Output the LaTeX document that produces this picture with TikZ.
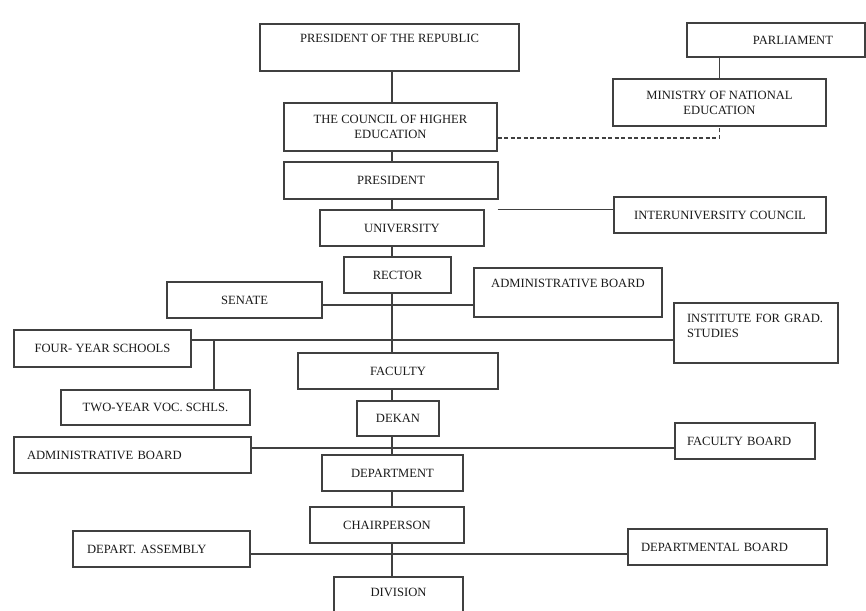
\documentclass[tikz,border=0pt]{standalone}
\usepackage{fontspec}
\setmainfont{Liberation Serif}
\begin{document}
\begin{tikzpicture}[
        x=1pt, y=1pt,
        every node/.style={font=\fontsize{12.6}{15}\selectfont, text=black!90},
        box/.style={rectangle, draw=black!75, line width=1.1pt,
            inner sep=0pt, minimum height=36pt, align=center},
        sidebox/.style={box, inner xsep=13pt, text width=#1, align=left},
        link/.style={draw=black!75, line width=1.1pt}
      ]
      \useasboundingbox (0,0) rectangle (866,-610);

      % top of the chain
      \node[box, minimum width=259pt, text height=18pt, text depth=29pt]
      (rep) at (389.5,-47.5) {PRESIDENT OF THE REPUBLIC};
      \node[box, text width=114pt, inner xsep=32pt, align=right, minimum height=34pt]
      (parl) at (776,-40) {PARLIAMENT};
      \node[box, minimum width=213pt, minimum height=48pt]
      (council) at (390.5,-127) {THE COUNCIL OF HIGHER\\EDUCATION};
      \node[box, minimum width=213pt, minimum height=47pt]
      (ministry) at (719.5,-102.5) {MINISTRY OF NATIONAL\\EDUCATION};
      \node[box, minimum width=214pt, minimum height=37pt]
      (pres) at (391,-180.5) {PRESIDENT};
      \node[box, minimum width=164pt]
      (univ) at (402,-228) {UNIVERSITY};
      \node[box, minimum width=212pt]
      (inter) at (720,-215) {INTERUNIVERSITY COUNCIL};

      % university level
      \node[box, minimum width=107pt]
      (rector) at (397.5,-275) {RECTOR};
      \node[box, minimum width=155pt]
      (senate) at (244.5,-300) {SENATE};
      \node[box, minimum width=188pt, text height=19pt, text depth=30pt]
      (adma) at (568,-292.5) {ADMINISTRATIVE BOARD};
      \node[box, minimum width=177pt, minimum height=37pt]
      (four) at (102.5,-348.5) {FOUR- YEAR SCHOOLS};
      \node[sidebox=138pt, text height=19pt, text depth=41pt]
      (inst) at (756,-333) {INSTITUTE FOR GRAD.\\STUDIES};
      \node[box, minimum width=189pt, minimum height=35pt]
      (two) at (155.5,-407.5) {TWO-YEAR VOC. SCHLS.};

      % faculty level
      \node[box, minimum width=200pt]
      (faculty) at (398,-371) {FACULTY};
      \node[box, minimum width=82pt, minimum height=35pt]
      (dekan) at (398,-418.5) {DEKAN};
      \node[sidebox=211pt]
      (admb) at (132.5,-455) {ADMINISTRATIVE BOARD};
      \node[sidebox=116pt, inner xsep=12pt]
      (fboard) at (745,-441) {FACULTY BOARD};

      % department level
      \node[box, minimum width=141pt]
      (dept) at (392.5,-473) {DEPARTMENT};
      \node[box, minimum width=154pt]
      (chair) at (387,-525) {CHAIRPERSON};
      \node[sidebox=149pt, inner xsep=14pt]
      (assembly) at (161.5,-549) {DEPART. ASSEMBLY};
      \node[sidebox=173pt]
      (dboard) at (727.5,-547) {DEPARTMENTAL BOARD};
      \node[box, minimum width=129pt, text height=19pt, text depth=21pt]
      (division) at (398.5,-597) {DIVISION};

      % main line
      \coordinate (spine) at (392,0);
      \foreach \a/\b in {rep/council, council/pres, pres/univ, univ/rector,
          rector/faculty, faculty/dekan, dekan/dept, dept/chair, chair/division}{
          \draw[link] (\a.south -| spine) -- (\b.north -| spine);
        }

      \draw[link] (ministry.north |- parl.south) -- (ministry.north);
      \draw[link, dash pattern=on 4pt off 2.5pt] ([yshift=-11pt]council.east) -| (ministry.south);
      \draw[link] ([xshift=13pt]univ.north east) -- (inter.west |- univ.north);

      \draw[link] ([yshift=-5pt]senate.east) -- ([yshift=-5pt]senate.east -| adma.west);
      \draw[link] ([yshift=8.5pt]four.east) -- ([yshift=8.5pt]four.east -| inst.west);
      \coordinate (fork) at (214,-340);
      \draw[link] (fork) -- (fork |- two.north);
      \draw[link] ([yshift=7pt]admb.east) -- ([yshift=7pt]admb.east -| fboard.west);
      \draw[link] ([yshift=-5pt]assembly.east) -- ([yshift=-5pt]assembly.east -| dboard.west);
    \end{tikzpicture}
\end{document}
